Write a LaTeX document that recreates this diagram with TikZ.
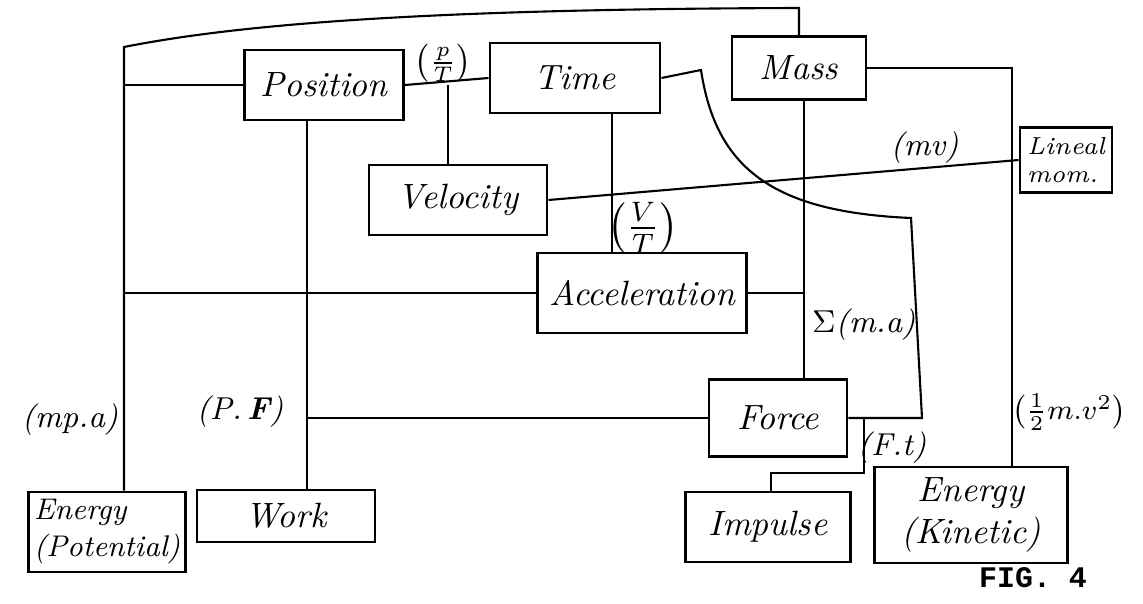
\documentclass[tikz,border=0pt]{standalone}
\usepackage{amsmath}
\usepackage{fontspec}
\newfontfamily\figfont{Liberation Mono}
\usetikzlibrary{positioning}
\tikzset{
	qtybox/.style={draw, thick, font=\itshape, inner sep=2pt},
	link/.style={semithick},
	rel/.style={font=\small\itshape, inner sep=1pt},
}

\begin{document}
\begin{tikzpicture}[x=0.01cm, y=-0.01cm]
	\useasboundingbox (0,0) rectangle (1143,603);
	% Quantity boxes
	\node[qtybox, minimum width=1.59cm, minimum height=0.70cm] (pos) at (324,85) {Position};
	\node[qtybox, minimum width=1.70cm, minimum height=0.70cm] (time) at (575,78) {Time};
	\node[qtybox, minimum width=1.34cm, minimum height=0.63cm] (mass) at (799,68) {Mass};
	\node[qtybox, minimum width=1.78cm, minimum height=0.70cm] (vel) at (458,200) {Velocity};
	\node[qtybox, minimum width=2.09cm, minimum height=0.80cm] (acc) at (642,293) {Acceleration};
	\node[qtybox, minimum width=0.76cm, minimum height=0.65cm, font=\scriptsize\itshape, align=left] (lin) at (1066,160) {Lineal\\mom.};
	\node[qtybox, minimum width=1.38cm, minimum height=0.77cm] (force) at (778,418) {Force};
	\node[qtybox, minimum width=1.65cm, minimum height=0.70cm] (imp) at (768,527) {Impulse};
	\node[qtybox, minimum width=1.93cm, minimum height=0.96cm, align=center] (kin) at (971,515) {Energy\\(Kinetic)};
	\node[qtybox, minimum width=1.49cm, minimum height=0.80cm, inner sep=1.5pt, font=\fontsize{8.5}{10.5}\selectfont\itshape, align=left] (pot) at (107,532) {Energy\\(Potential)};
	\node[qtybox, minimum width=1.78cm, minimum height=0.52cm] (work) at (286,516) {Work};
	% Bend points
	\coordinate (tl) at (124,47);
	\coordinate (tr) at (799,8);
	\coordinate (pv) at (448,85);
	\coordinate (pw) at (307,0);
	\coordinate (ta) at (612,0);
	\coordinate (mf) at (804,0);
	\coordinate (mk) at (1012,0);
	\coordinate (tb) at (701,70);
	\coordinate (fr) at (922,418);
	\coordinate (fj) at (864,418);
	\coordinate (ij) at (771,473);
	% Connectors
	\draw[link] (mass.north) -- (tr) .. controls (450,9) and (250,22) .. (tl) -- (tl |- pot.north);
	\draw[link] (pos.west) -- (pos.west -| tl);
	\draw[link] (acc.west) -- (acc.west -| tl);
	\draw[link] (pos.east) -- (time.west);
	\draw[link] (pv) -- (pv |- vel.north);
	\draw[link] (pos.south -| pw) -- (work.north -| pw);
	\draw[link] (force.west) -- (force.west -| pw);
	\draw[link] (time.south -| ta) -- (acc.north -| ta);
	\draw[link] (vel.east) -- node[rel, pos=0.8, above] {(mv)} (lin.west);
	\draw[link] (mass.south -| mf) -- (force.north -| mf);
	\draw[link] (acc.east) -- (acc.east -| mf);
	\draw[link] (mass.east) -| (mk |- kin.north);
	\draw[link] (time.east) -- (tb) .. controls (716,170) and (775,212) .. (911,218) -- (fr) -- (force.east);
	\draw[link] (fj) |- (ij) -- (ij |- imp.north);
	% Relation labels
	\node[rel] (lpt) at (443,63) {$\left(\frac{p}{T}\right)$};
	\node[rel, font=\large] (lvt) at (643,228) {$\left(\frac{V}{T}\right)$};
	\node[rel, anchor=west] (lma) at (808,325) {$\Sigma$(m.a)};
	\node[rel] (lmpa) at (70,420) {(mp.a)};
	\node[rel] (lpf) at (240,412) {(P.\,\textbf{F})};
	\node[rel] (lft) at (892,448) {(F.t)};
	\node[rel, font=\footnotesize, anchor=west] (lke) at (1008,412) {$\left(\frac{1}{2}m.v^2\right)$};
	% Caption
	\node[font=\figfont\bfseries\fontsize{8.5}{10}\selectfont] (cap) at (1033,578) {FIG. 4};
\end{tikzpicture}
\end{document}
